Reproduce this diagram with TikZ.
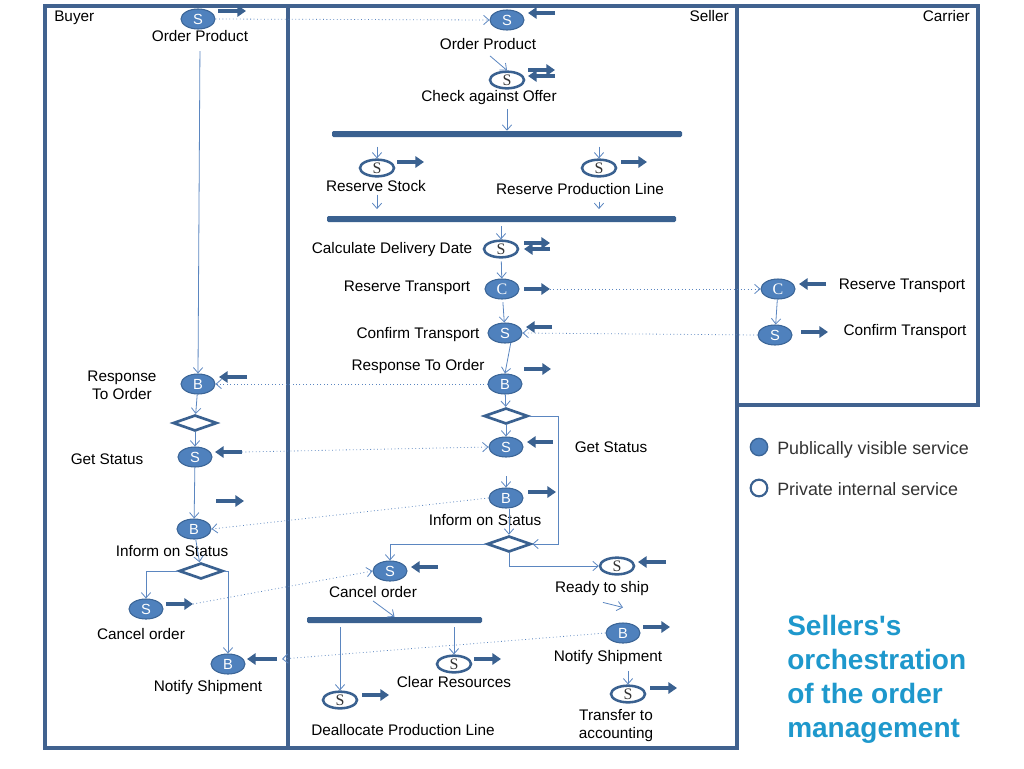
\documentclass[tikz,border=0pt]{standalone}
\usepackage{fontspec}
\setmainfont{Liberation Sans}
\newfontfamily\serifletter{Liberation Serif}
\newfontfamily\titlefont[Ligatures=TeXOff]{Liberation Sans}
\usetikzlibrary{arrows.meta,shapes.geometric,calc}
\definecolor{lane}{HTML}{41628F}
\definecolor{pub}{HTML}{4F81BD}
\definecolor{pubedge}{HTML}{3B6597}
\definecolor{flowc}{HTML}{5B86C0}
\definecolor{thick}{HTML}{3A6190}
\definecolor{titlec}{HTML}{1E98CC}
\definecolor{legtext}{HTML}{333333}
\newcommand\tharrow[3]{\draw[bigarrow] (#1,#3) -- (#2,#3);}
\tikzset{
  lanebox/.style={draw=lane, line width=2.3pt},
  pubsvc/.style={ellipse, fill=pub, draw=pubedge, line width=0.8pt, minimum width=25.5pt, minimum height=15pt, inner sep=0pt, text=white, font=\fontsize{11}{11}\selectfont},
  privsvc/.style={ellipse, fill=white, draw=thick, line width=1.9pt, minimum width=25.5pt, minimum height=12.5pt, inner sep=0pt, text=black!80, font=\serifletter\fontsize{12}{12}\selectfont},
  pubserif/.style={pubsvc, font=\serifletter\fontsize{12}{12}\selectfont},
  lbl/.style={font=\fontsize{11.5}{13.5}\selectfont, inner sep=0pt, align=center},
  flow/.style={draw=flowc, line width=0.6pt, -{Straight Barb[length=4pt,width=7pt]}},
  msg/.style={draw=flowc, line width=0.6pt, dotted, -{Straight Barb[length=4pt,width=7pt]}},
  gate/.style={diamond, draw=thick, fill=white, line width=2pt, minimum width=33pt, minimum height=12pt, aspect=2.75, inner sep=0pt},
  forkbar/.style={rectangle, fill=thick, minimum height=4.5pt, inner sep=0pt, rounded corners=1pt},
  bigarrow/.style={draw=thick, line width=3pt, -{Triangle[length=6.5pt,width=8.5pt]}},
}
\begin{document}
\begin{tikzpicture}[x=0.75pt,y=-0.75pt]
\useasboundingbox (0,0) rectangle (1024,768);
% lanes
\draw[lanebox] (45,6) rectangle (288,748);
\draw[lanebox] (288,6) rectangle (737,748);
\draw[lanebox] (737,6) rectangle (978,405);
\node[lbl, anchor=west] (buyerL) at (54,18) {Buyer};
\node[lbl, anchor=east] (sellerL) at (729,16) {Seller};
\node[lbl, anchor=east] (carrierL) at (970,16) {Carrier};

% ---------------- Buyer
\node[pubsvc] (bOrder) at (198,19) {S};
\node[lbl] (bOrderL) at (200,36) {Order Product};
\tharrow{218}{246}{11}
\node[pubsvc] (bResp) at (198,384) {B};
\node[lbl] (bRespL) at (122,385) {Response\\To Order};
\tharrow{247}{219}{377}
\node[gate] (bG1) at (195,423) {};
\node[pubsvc] (bGet) at (195,457) {S};
\node[lbl] (bGetL) at (107,459) {Get Status};
\coordinate (gsTail) at (242,452);
\tharrow{242}{215}{452}
\tharrow{216}{244}{501}
\node[pubsvc] (bInf) at (194,529) {B};
\node[lbl] (bInfL) at (172,551) {Inform on Status};
\node[gate] (bG2) at (201,571) {};
\node[pubsvc] (bCan) at (146,609) {S};
\node[lbl] (bCanL) at (141,634) {Cancel order};
\coordinate (bcTip) at (193,604);
\tharrow{166}{193}{604}
\node[pubsvc] (bNot) at (228,664) {B};
\node[lbl] (bNotL) at (208,688) {Notify Shipment};
\coordinate (bnTail) at (282,659);
\tharrow{277}{247}{659}

\draw[flow, shorten <=7pt] (bOrderL.south) -- (bResp.north);
\draw[flow] (bResp) -- (bG1);
\draw[flow] (bG1) -- (bGet);
\draw[flow] (bGet) -- (bInf);
\draw[flow] (bInf) -- (bG2);
\draw[flow] (bG2.west) -| (bCan.north);
\draw[flow] (bG2.east) -| (bNot.north);

% ---------------- Seller
\node[pubsvc] (sOrder) at (507,20) {S};
\node[lbl] (sOrderL) at (488,44) {Order Product};
\tharrow{555}{528}{13}
\node[privsvc] (sChk) at (507,80) {S};
\node[lbl] (sChkL) at (489,98) {Check against Offer};
\tharrow{528}{555}{70}
\tharrow{555}{528}{76}
\node[forkbar, minimum width=262.5pt] (bar1) at (507,134) {};
\node[privsvc] (sStk) at (377,168) {S};
\node[lbl] (sStkL) at (376,186) {Reserve Stock};
\tharrow{397}{424}{162}
\node[privsvc] (sPL) at (599,168) {S};
\node[lbl] (sPLL) at (580,189) {Reserve Production Line};
\tharrow{621}{647}{162}
\node[forkbar, minimum width=261.75pt] (bar2) at (501.5,219) {};
\node[privsvc] (sCalc) at (501,249) {S};
\node[lbl] (sCalcL) at (392,250) {Calculate Delivery Date};
\tharrow{524}{550}{243}
\tharrow{550}{524}{249}
\node[pubserif] (sRT) at (502,289) {C};
\node[lbl] (sRTL) at (407,288) {Reserve Transport};
\coordinate (rtTip) at (550,289);
\tharrow{524}{550}{289}
\node[pubsvc] (sConf) at (505,333) {S};
\node[lbl] (sConfL) at (418,335) {Confirm Transport};
\tharrow{552}{526}{327}
\node[pubsvc] (sResp) at (505,384) {B};
\node[lbl] (sRespL) at (418,367) {Response To Order};
\tharrow{524}{551}{369}
\node[gate] (sG1) at (506,416) {};
\node[pubsvc] (sGet) at (506,447) {S};
\node[lbl] (sGetL) at (611,447) {Get Status};
\tharrow{553}{527}{442}
\node[pubsvc] (sInf) at (506,498) {B};
\node[lbl] (sInfL) at (485,520) {Inform on Status};
\tharrow{528}{556}{492}
\node[gate] (sG2) at (509,544) {};
\node[pubsvc] (sCan) at (390,571) {S};
\node[lbl] (sCanL) at (373,592) {Cancel order};
\tharrow{438}{411}{567}
\node[privsvc] (sReady) at (617,566) {S};
\node[lbl] (sReadyL) at (602,589) {Ready to ship};
\tharrow{666}{638}{562}
\node[pubsvc] (sNot) at (623,633) {B};
\node[lbl] (sNotL) at (608,658) {Notify Shipment};
\tharrow{643}{670}{627}
\node[privsvc] (sTr) at (628,694) {S};
\node[lbl] (sTrL) at (616,726) {Transfer to\\accounting};
\tharrow{650}{677}{688}
\node[forkbar, minimum width=131.25pt] (bar3) at (394.5,620) {};
\node[privsvc] (sDeal) at (340,700) {S};
\node[lbl] (sDealL) at (403,730) {Deallocate Production Line};
\tharrow{362}{389}{695}
\node[privsvc] (sClr) at (454,664) {S};
\node[lbl] (sClrL) at (454,682) {Clear Resources};
\tharrow{474}{501}{659}

\draw[flow] ($(sOrderL.south)+(2,6)$) -- (sChk.north);
\draw[flow, shorten <=3pt] (sChkL.south -| bar1.north) -- (bar1.north);
\draw[flow, shorten <=7pt] (bar1.south -| sStk.north) -- (sStk.north);
\draw[flow, shorten <=7pt] (bar1.south -| sPL.north) -- (sPL.north);
\draw[flow, shorten <=2pt, shorten >=5pt] (sStkL.south -| sStk.south) -- (bar2.north -| sStk.south);
\draw[flow, shorten <=5pt, shorten >=5pt] (sPLL.south -| sPL.south) -- (bar2.north -| sPL.south);
\draw[flow, shorten <=3pt] (bar2.south -| sCalc.north) -- (sCalc.north);
\draw[flow, shorten <=2pt] (sCalc) -- (sRT);
\draw[flow, shorten <=2pt] (sRT) -- (sConf);
\draw[flow] (sConf.-60) -- (sResp.north);
\draw[flow] (sResp) -- (sG1);
\draw[flow] (sG1) -- (sGet);
\draw[flow] (sG1.east) -- ++(29,0) |- (sG2.east);
\draw[flow, shorten <=14pt] (sGet) -- (sInf);
\draw[flow] (sInf.south -| sG2.north) -- (sG2.north);
\draw[flow] (sG2.west) -| (sCan.north);
\draw[flow] (sG2.south) |- (sReady.west);
\draw[flow] ($(sReadyL.south)+(1,6)$) -- ($(sNot.north)+(0,-15)$);
\draw[flow, shorten <=4pt] (sNotL.south -| sTr.north) -- (sTr.north);
\draw[flow] ($(sCanL.south)+(0,3)$) -- (bar3.north);
\draw[flow, shorten <=3pt] (bar3.south -| sDeal.north) -- (sDeal.north);
\draw[flow, shorten <=3pt] (bar3.south -| sClr.north) -- (sClr.north);

% ---------------- Carrier
\node[pubserif] (cRes) at (778,289) {C};
\node[lbl] (cResL) at (902,286) {Reserve Transport};
\tharrow{826}{799}{284}
\node[pubsvc] (cConf) at (775,335) {S};
\node[lbl] (cConfL) at (905,332) {Confirm Transport};
\tharrow{801}{828}{332}
\draw[flow] (cRes) -- (cConf);

% ---------------- Messages
\draw[msg] (bOrder.east) -- (sOrder.west);
\draw[msg] (rtTip) -- (cRes.west);
\draw[msg] (cConf.west) -- (sConf.east);
\draw[msg] (sResp.west) -- (bResp.east);
\draw[msg] (gsTail) -- (sGet.west);
\draw[msg] (sInf.west) -- (bInf.east);
\draw[msg] (bcTip) -- (sCan.west);
\draw[msg] (sNot.west) -- (bnTail);

% ---------------- Legend
\node[circle, fill=pub, draw=pubedge, line width=1pt, minimum size=13pt, inner sep=0pt] (legPub) at (759,447) {};
\node[font=\fontsize{13.4}{15}\selectfont, text=legtext, anchor=west, inner sep=0pt] (legPubL) at (777,450) {Publically visible service};
\node[circle, fill=white, draw=thick, line width=1.6pt, minimum size=12.5pt, inner sep=0pt] (legPriv) at (759,488) {};
\node[font=\fontsize{13.4}{15}\selectfont, text=legtext, anchor=west, inner sep=0pt] (legPrivL) at (777,489) {Private internal service};

% ---------------- Title
\node[anchor=north west, align=left, font=\titlefont\bfseries\fontsize{21}{25.5}\selectfont, text=titlec, inner sep=0pt] (title) at (787,615) {Sellers's\\orchestration\\of the order\\management};
\end{tikzpicture}
\end{document}
